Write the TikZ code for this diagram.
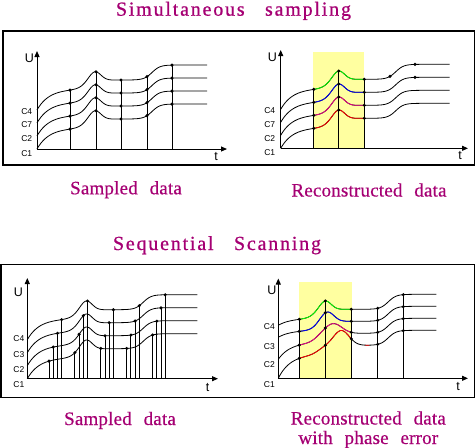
\documentclass[tikz,border=0pt]{standalone}
\usepackage{fontspec}
\setmainfont{Liberation Serif}
\newfontfamily\ttlfont[LetterSpace=9,WordSpace=3,FakeBold=0.8]{Liberation Serif}
\newfontfamily\lblfont[LetterSpace=1,WordSpace=2.4,FakeBold=0.5]{Liberation Serif}
\newfontfamily\axfont{Liberation Sans}
\usetikzlibrary{arrows.meta}
\definecolor{ttl}{RGB}{165,0,115}
\definecolor{hl}{RGB}{255,255,160}
\begin{document}
\begin{tikzpicture}[x=1pt,y=-1pt,
  declare function={
    sg(\zv)=1/(1+exp(-max(min(\zv,9),-9)));
    gs(\zv)=exp(-min((\zv)*(\zv),9));
    sh(\xv,\dv,\cv,\av,\hv,\wv,\bv)=60-\dv*exp(-min(\xv/12,9))+9*sg((\xv-\cv)/4)+\hv*gs((\xv-\av)/\wv)+15*sg((\xv-\bv)/4);
  },
  curve/.style={line width=0.8pt},
  axis/.style={line width=1pt,-{Triangle[length=6pt,width=5pt]}},
  samp/.style={line width=1pt},
  frame/.style={line width=1.3pt},
  ttl/.style={font=\ttlfont\fontsize{20}{21}\selectfont, text=ttl, inner sep=0pt, anchor=base},
  lbl/.style={font=\lblfont\fontsize{19}{19.5}\selectfont, text=ttl, inner sep=0pt, anchor=base, align=center},
  axl/.style={font=\axfont\fontsize{12.5}{13}\selectfont, inner sep=0pt},
  chl/.style={font=\axfont\fontsize{8.5}{9}\selectfont, inner sep=0pt},
]
\useasboundingbox (0,0) rectangle (475,448);
\def\pT{21,47,58,9,8,115}
\def\pL{21,48,59,9.5,8,116}
\def\pA{7,36,47,9,8,110}
\def\pB{7,38,49,10,9,110}
\def\pC{17,38,55,10,12,110}
\def\pD{24,40,63,15,11,110}

% frames
\draw[frame] (3,31) rectangle (474.3,165);
\draw[frame] (1,264.3) rectangle (474.3,397.5);

% titles and captions
\node[ttl] (title1) at (233.5,15.7) {Simultaneous sampling};
\node[ttl] (title2) at (217,250) {Sequential Scanning};
\node[lbl] (cap1) at (126,194.3) {Sampled data};
\node[lbl] (cap2) at (369,196.5) {Reconstructed data};
\node[lbl] (cap3) at (120,425) {Sampled data};
\node[lbl] (cap4) at (368.3,444) {Reconstructed data\\with phase error};

% ---------------- top-left ----------------
\coordinate (O1) at (37,149);
\coordinate (Y1) at (37,51);
\coordinate (X1) at (227,149);
\foreach \kk in {0,1,2,3}
  \draw[curve] plot[smooth,domain=0:170,samples=86] ({37+\x},{149-sh(\x,\pT)+13*\kk});
\draw[axis] (O1) -- (Y1);
\draw[axis] (O1) -- (X1);
\foreach \sx in {33,59,84,110,135}{
  \coordinate (tl) at ({37+\sx},{149-sh(\sx,\pT)});
  \draw[samp] (tl |- O1) -- (tl);
  \foreach \kk in {0,1,2,3}
    \fill ({37+\sx},{149-sh(\sx,\pT)+13*\kk}) circle[radius=1.7pt];
}
\node[axl] (U1) at (29.5,58) {U};
\node[axl] (t1) at (216,157) {t};
\node[chl] (c41) at (26.7,112) {C4};
\node[chl] (c71) at (26.7,125) {C7};
\node[chl] (c21) at (26.7,138.5) {C2};
\node[chl] (c11) at (26.7,153.5) {C1};

% ---------------- top-right ----------------
\coordinate (O2) at (280.7,148.3);
\coordinate (Y2) at (280.7,50);
\coordinate (X2) at (468,148.3);
\fill[hl] (312.7,52) rectangle (364.3,148.3);
\foreach \kk in {0,1,2,3}
  \draw[curve] plot[smooth,domain=0:169,samples=86] ({280.7+\x},{148.3-sh(\x,\pT)+13*\kk});
\foreach \kk/\cc in {0/green,1/blue,2/magenta,3/red}
  \draw[curve,\cc] plot[smooth,domain=33:83.6,samples=30] ({280.7+\x},{148.3-sh(\x,\pT)+13*\kk});
\draw[axis] (O2) -- (Y2);
\draw[axis] (O2) -- (X2);
\foreach \sx in {33,58,83.6}{
  \coordinate (tr) at ({280.7+\sx},{148.3-sh(\sx,\pT)});
  \draw[samp] (tr |- O2) -- (tr);
  \foreach \kk in {0,1,2,3}
    \fill ({280.7+\sx},{148.3-sh(\sx,\pT)+13*\kk}) circle[radius=1.7pt];
}
\foreach \sx/\kk in {109.3/0,134.3/0,134.3/1}
  \fill ({280.7+\sx},{148.3-sh(\sx,\pT)+13*\kk}) circle[radius=1.7pt];
\node[axl] (U2) at (272.5,57) {U};
\node[axl] (t2) at (460,156) {t};
\node[chl] (c42) at (269.7,111) {C4};
\node[chl] (c72) at (269.7,125) {C7};
\node[chl] (c22) at (269.7,138.5) {C2};
\node[chl] (c12) at (269.7,153) {C1};

% ---------------- bottom-left ----------------
\coordinate (O3) at (27.3,378.7);
\coordinate (Y3) at (27.3,278);
\coordinate (X3) at (218,378.7);
\foreach \kk in {0,1,2,3}
  \draw[curve] plot[smooth,domain=0:170,samples=86] ({27.3+\x},{378.7-sh(\x,\pL)+13*\kk});
\draw[axis] (O3) -- (Y3);
\draw[axis] (O3) -- (X3);
\foreach \g in {0,1,2,3,4}{
  \foreach \j in {0,1,2,3}{
    \pgfmathsetmacro\sx{21.7+25.9*\g+4.2*\j}
    \pgfmathsetmacro\kk{3-\j}
    \coordinate (bl) at ({27.3+\sx},{378.7-sh(\sx,\pL)+13*\kk});
    \draw[samp] (bl |- O3) -- (bl);
    \fill (bl) circle[radius=1.7pt];
  }
}
\node[axl] (U3) at (18.5,292) {U};
\node[axl] (t3) at (207.5,388) {t};
\node[chl] (c43) at (18.8,338.3) {C4};
\node[chl] (c33) at (18.8,354.3) {C3};
\node[chl] (c23) at (18.8,369.3) {C2};
\node[chl] (c13) at (18.8,384.3) {C1};

% ---------------- bottom-right ----------------
\coordinate (O4) at (278.3,378.3);
\coordinate (Y4) at (278.3,278.5);
\coordinate (X4) at (468,378.3);
\fill[hl] (299,281.7) rectangle (351.7,378.3);
\foreach \kk/\pp in {0/\pA,1/\pB,2/\pC,3/\pD}
  \draw[curve] plot[smooth,domain=0:158,samples=80] ({278.3+\x},{378.3-sh(\x,\pp)+12*\kk});
\foreach \kk/\pp/\cc in {0/\pA/green,1/\pB/blue,2/\pC/magenta,3/\pD/red}
  \draw[curve,\cc] plot[smooth,domain=21:73,samples=30] ({278.3+\x},{378.3-sh(\x,\pp)+12*\kk});
\draw[curve,red] plot[smooth,domain=87:91,samples=4] ({278.3+\x},{378.3-sh(\x,\pD)+36});
\draw[axis] (O4) -- (Y4);
\draw[axis] (O4) -- (X4);
\foreach \sx in {21,47,73,99.4,125}{
  \coordinate (br) at ({278.3+\sx},{378.3-sh(\sx,\pA)});
  \draw[samp] (br |- O4) -- (br);
  \foreach \kk/\pp in {0/\pA,1/\pB,2/\pC,3/\pD}
    \fill ({278.3+\sx},{378.3-sh(\sx,\pp)+12*\kk}) circle[radius=1.7pt];
}
\node[axl] (U4) at (272,290) {U};
\node[axl] (t4) at (458,387) {t};
\node[chl] (c44) at (269.3,326.7) {C4};
\node[chl] (c34) at (269.3,346.7) {C3};
\node[chl] (c24) at (269.3,365) {C2};
\begin{scope}
  \clip (255,370) rectangle (277,386.5);
  \node[chl] (c14) at (269.3,384.5) {C1};
\end{scope}
\end{tikzpicture}
\end{document}
